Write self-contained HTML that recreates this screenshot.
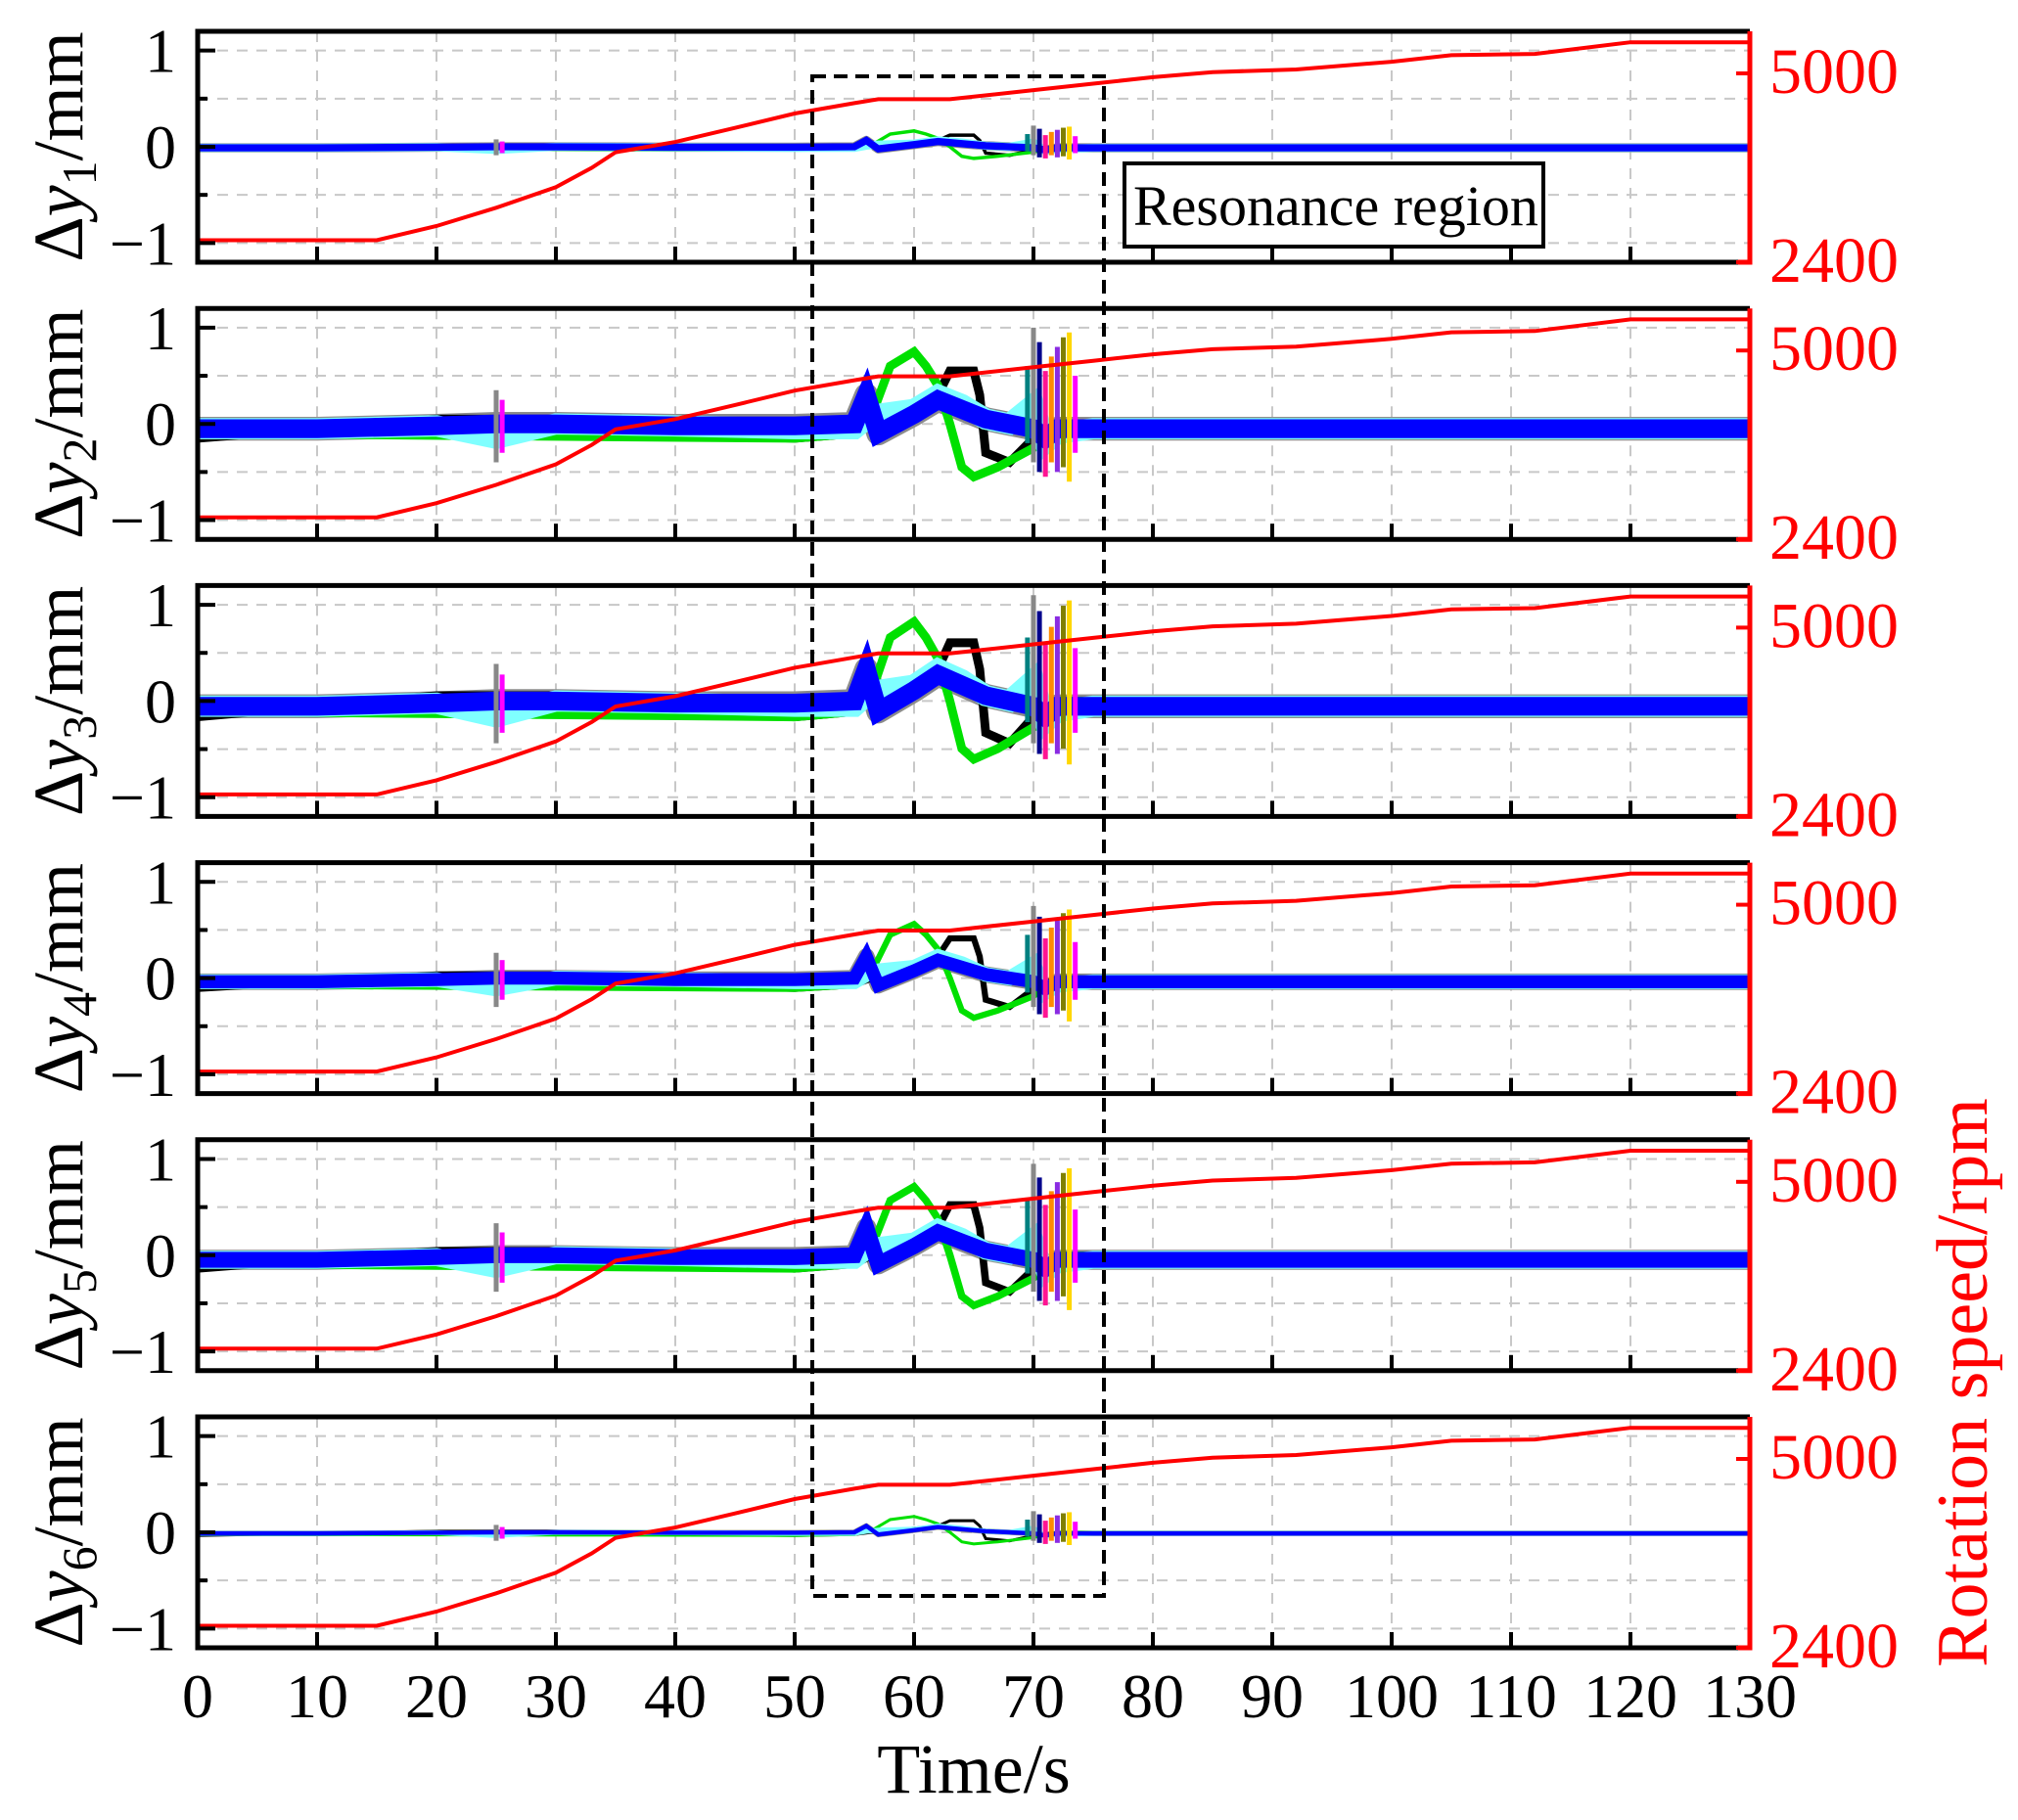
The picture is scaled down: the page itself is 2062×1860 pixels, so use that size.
<!DOCTYPE html>
<html><head><meta charset="utf-8">
<style>
html,body{margin:0;padding:0;background:#fff;}
svg{display:block;font-family:"Liberation Serif","DejaVu Serif",serif;}
</style></head>
<body>
<svg id="chart" width="2062" height="1860" viewBox="0 0 2062 1860" xmlns="http://www.w3.org/2000/svg">
<g id="layer-grid"></g>
<g id="layer-data"></g>
<g id="layer-frame"></g>
<g id="layer-text"></g>
</svg>
<script>
// ---- data ----
const panelNames = ["Δy1","Δy2","Δy3","Δy4","Δy5","Δy6"];
const panelAmp = [0.22, 1.0, 1.1, 0.75, 0.95, 0.22];
const panelBand = [0.05, 0.13, 0.13, 0.09, 0.11, 0.03];
const xTicks = [0,10,20,30,40,50,60,70,80,90,100,110,120,130];
const yTicks = [1,0,-1];
const yMinor = [0.5,-0.5];
const rpmTicks = [5000,2400];
const rpmT = [0,15,20,25,30,33,35,40,45,50,55,57,63,70,75,80,85,92,100,105,112,120,130];
const rpmV = [2703,2703,2899,3150,3433,3700,3914,4056,4250,4448,4591,4644,4644,4769,4858,4947,5018,5054,5160,5250,5268,5428,5428];
const baseT = [0,10,20,25,30,40,50,55,56,57,60,62,64,66,68,70,71,72,75,80,90,100,110,120,130];
const blueV = [-0.05,-0.05,-0.02,0.0,0.0,-0.02,-0.02,0.0,0.3,-0.1,0.1,0.25,0.15,0.05,0.0,-0.05,-0.15,-0.05,-0.05,-0.05,-0.05,-0.05,-0.05,-0.05,-0.05];
const cyanV = [-0.05,-0.05,-0.02,-0.15,0.0,-0.02,-0.05,-0.05,0.05,0.1,0.15,0.3,0.2,0.05,0.0,0.2,-0.2,-0.1,-0.05,-0.05,-0.05,-0.05,-0.05,-0.05,-0.05];
const blackT = [0,10,20,30,40,50,55,58,60,62,63,65,65.5,66,68,70,72,75,80,130];
const blackV = [-0.15,-0.05,0.05,0.05,-0.1,-0.15,-0.1,0.1,0.2,0.3,0.55,0.55,0.3,-0.3,-0.4,-0.15,0.0,-0.05,-0.05,-0.05];
const greenT = [0,50,55,56.5,58,60,61,62,63,64,65,67,70,72,130];
const greenV = [-0.1,-0.15,-0.1,0.1,0.6,0.75,0.6,0.4,0.0,-0.45,-0.55,-0.45,-0.25,0.0,-0.02];
const spikeT = [25,25.5,69.5,70,70.5,71,71.5,72,72.5,73,73.5];
const spikeHi = [0.35,0.25,0.6,1.0,0.85,0.55,0.7,0.8,0.9,0.95,0.5];
const spikeLo = [-0.4,-0.3,-0.2,-0.4,-0.5,-0.55,-0.4,-0.5,-0.45,-0.6,-0.3];
const spikeColors = ["#888","#ff00ff","#008080","#888","#00008b","#ff1493","#ff8c00","#8a2be2","#808000","#ffd700","#ff00ff"];

// ---- layout / axes ----
const X0=202, X1=1788, TOP0=32, PITCH=283.2, PH=236;
function xS(t){return X0+t/130*(X1-X0);}
function panelTop(i){return TOP0+i*PITCH;}
function yL(v,i){return panelTop(i)+(1.2-v)/2.4*PH;}
function yR(r,i){return panelTop(i)+PH-(r-2400)/2600*193;}
const NS="http://www.w3.org/2000/svg";
function mk(parent,tag,attrs){const e=document.createElementNS(NS,tag);for(const k in attrs)e.setAttribute(k,attrs[k]);parent.appendChild(e);return e;}
const gG=document.getElementById('layer-grid'),gD=document.getElementById('layer-data'),gF=document.getElementById('layer-frame'),gT=document.getElementById('layer-text');

for(let i=0;i<6;i++){
  const T=panelTop(i),B=T+PH;
  for(const t of xTicks){ if(t===0||t===130)continue;
    const l=mk(gG,'line',{x1:xS(t),x2:xS(t),y1:T,y2:B,stroke:'#c8c8c8','stroke-width':2,'stroke-dasharray':'11 9'});
    
    
  }
  for(const v of [1,0.5,0,-0.5,-1]){
    const l=mk(gG,'line',{x1:X0,x2:X1,y1:yL(v,i),y2:yL(v,i),stroke:'#c8c8c8','stroke-width':2,'stroke-dasharray':'11 9'});
    
    
  }
  const a=panelAmp[i];
  const pth=function(ts,vs,scale){return ts.map((t,k)=>(k?'L':'M')+xS(t).toFixed(1)+' '+yL(vs[k]*scale,i).toFixed(1)).join(' ');};
  const bandPx=panelBand[i]*2/2.4*PH;
  const pg=mk(gD,'path',{d:pth(baseT,blueV,a),fill:'none',stroke:'#8c8c8c','stroke-width':bandPx*0.95,'stroke-linejoin':'round'});
  
  
  const pk=mk(gD,'path',{d:pth(blackT,blackV,a),fill:'none',stroke:'#000','stroke-width':Math.max(3,bandPx*0.35)});
  
  
  const pgr=mk(gD,'path',{d:pth(greenT,greenV,a),fill:'none',stroke:'#00e000','stroke-width':Math.max(3,bandPx*0.35)});
  
  
  const pc=mk(gD,'path',{d:pth(baseT,cyanV,a),fill:'none',stroke:'#7fffff','stroke-width':bandPx*0.85});
  
  
  const pb=mk(gD,'path',{d:pth(baseT,blueV,a),fill:'none',stroke:'#0000ff','stroke-width':bandPx*0.75});
  
  
  spikeT.forEach((t,k)=>{
    const s=mk(gD,'line',{x1:xS(t),x2:xS(t),y1:yL(spikeHi[k]*a,i),y2:yL(spikeLo[k]*a,i),stroke:spikeColors[k],'stroke-width':5});
    
    
  });
  const pr=mk(gD,'path',{d:rpmT.map((t,k)=>(k?'L':'M')+xS(t).toFixed(1)+' '+yR(rpmV[k],i).toFixed(1)).join(' '),fill:'none',stroke:'#ff0000','stroke-width':4});
  
  
  const fr=mk(gF,'path',{d:`M${X1} ${T} L${X0} ${T} L${X0} ${B} L${X1-12} ${B}`,fill:'none',stroke:'#000','stroke-width':5});
  
  
  const rf=mk(gF,'path',{d:`M${X1} ${T} L${X1} ${B} L${X1-12} ${B}`,fill:'none',stroke:'#ff0000','stroke-width':5});
  
  
  for(const t of xTicks){ if(t===0||t===130)continue;
    const l=mk(gF,'line',{x1:xS(t),x2:xS(t),y1:B,y2:B-16,stroke:'#000','stroke-width':4});
    
    
  }
  for(const v of yTicks){
    const l=mk(gF,'line',{x1:X0,x2:X0+18,y1:yL(v,i),y2:yL(v,i),stroke:'#000','stroke-width':4});
    
    
    const tx=mk(gT,'text',{x:180,y:yL(v,i)+22,'text-anchor':'end','font-size':64,fill:'#000'});
    tx.textContent=v<0?'\u2212'+Math.abs(v):String(v);
    
    
  }
  for(const v of yMinor){
    const l=mk(gF,'line',{x1:X0,x2:X0+10,y1:yL(v,i),y2:yL(v,i),stroke:'#000','stroke-width':4});
    
    
  }
  for(const r of rpmTicks){
    const l=mk(gF,'line',{x1:X1,x2:X1-14,y1:yR(r,i),y2:yR(r,i),stroke:'#ff0000','stroke-width':4});
    
    
    const tx=mk(gT,'text',{x:1808,y:yR(r,i)+20,'font-size':66,fill:'#ff0000'});
    tx.textContent=String(r);
    
    
  }
  const cy=T+PH/2;
  const yl=mk(gT,'text',{x:0,y:0,'font-size':72,fill:'#000','text-anchor':'middle',transform:`translate(84 ${cy}) rotate(-90)`});
  
  
  const t1=mk(yl,'tspan',{});t1.textContent='Δ';
  const t2=mk(yl,'tspan',{'font-style':'italic'});t2.textContent='y';
  const t3=mk(yl,'tspan',{'font-size':50,dy:14});t3.textContent=String(i+1);
  const t4=mk(yl,'tspan',{dy:-14});t4.textContent='/mm';
}
for(const t of xTicks){
  const tx=mk(gT,'text',{x:xS(t),y:1755,'text-anchor':'middle','font-size':64,fill:'#000'});
  tx.textContent=String(t);
  
  
}
const xt=mk(gT,'text',{x:995,y:1832,'text-anchor':'middle','font-size':72,fill:'#000'});
xt.textContent='Time/s';


const rt=mk(gT,'text',{x:0,y:0,'text-anchor':'middle','font-size':74,fill:'#ff0000',transform:'translate(2030 1413) rotate(-90)'});
rt.textContent='Rotation speed/rpm';


const rb=mk(gF,'rect',{x:830,y:78,width:298,height:1553,fill:'none',stroke:'#000','stroke-width':4,'stroke-dasharray':'14 8'});


const lb=mk(gF,'rect',{x:1149,y:167,width:428,height:85,fill:'#fff',stroke:'#000','stroke-width':4});


const lt=mk(gT,'text',{x:1158,y:230,'font-size':58,fill:'#000'});
lt.textContent='Resonance region';


</script>
</body></html>
